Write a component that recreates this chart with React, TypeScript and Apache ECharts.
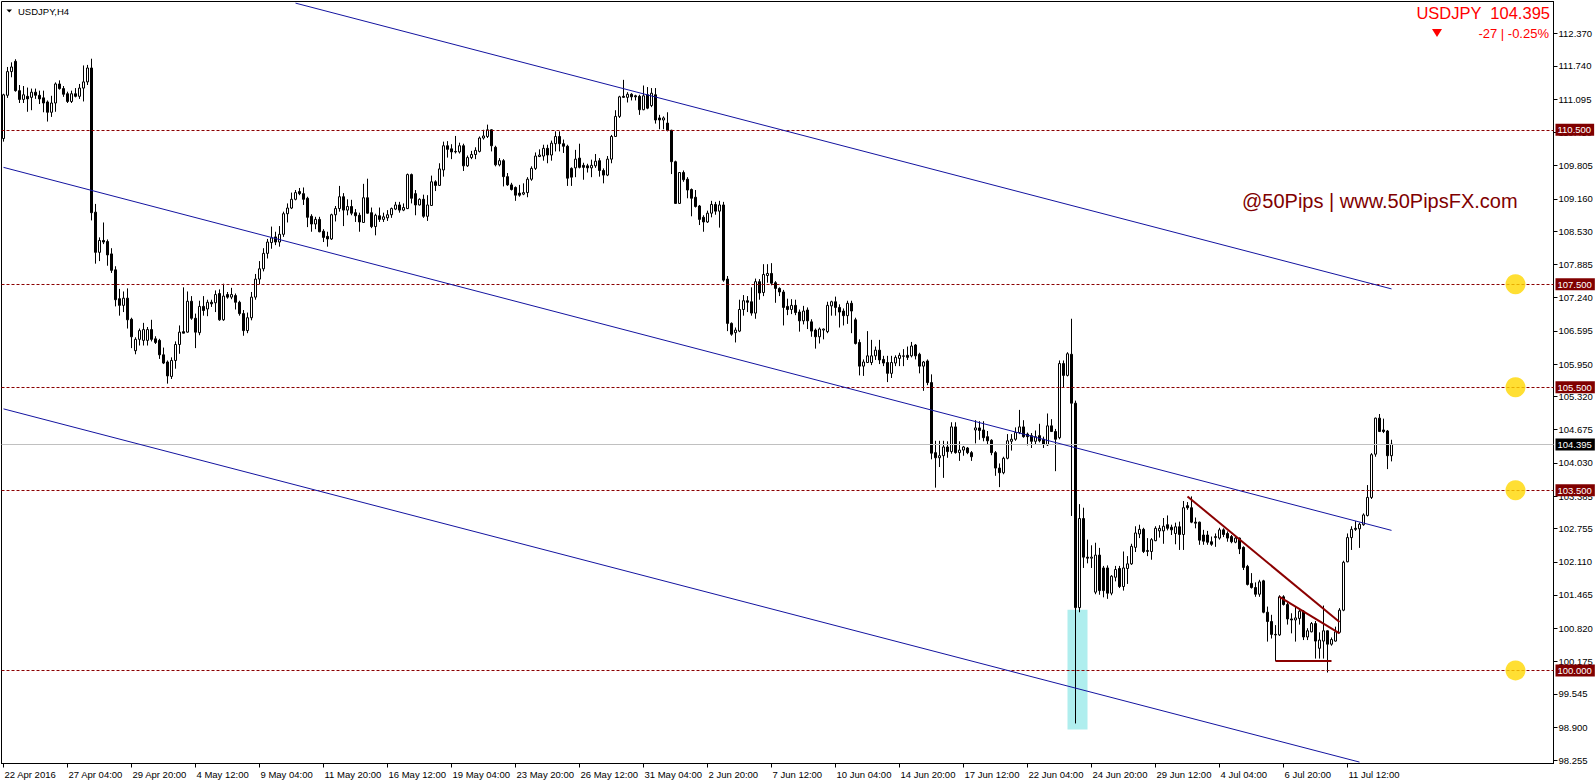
import React, { useEffect, useRef } from 'react';
import * as echarts from 'echarts';

// ---------- DATA ----------
// H4 bars, each row: [open, high, low, close]; first bar = 22 Apr 2016 12:00
const barsApr = [
  [110.33, 111.20, 110.27, 111.18], [111.17, 111.72, 111.12, 111.63], [111.63, 111.81, 111.52, 111.72],
  [111.83, 111.87, 111.24, 111.26], [111.26, 111.37, 111.02, 111.09], [111.09, 111.35, 111.02, 111.18],
  [111.15, 111.32, 110.85, 111.10], [111.13, 111.30, 110.88, 111.23], [111.23, 111.30, 111.10, 111.17],
  [111.17, 111.26, 111.00, 111.10], [111.12, 111.26, 110.84, 111.02], [111.04, 111.07, 110.66, 110.84],
  [110.84, 111.16, 110.75, 111.02], [111.02, 111.42, 110.85, 111.39], [111.39, 111.46, 111.28, 111.30],
  [111.30, 111.35, 111.14, 111.19], [111.20, 111.24, 111.02, 111.05], [111.05, 111.26, 111.02, 111.20],
  [111.20, 111.31, 111.13, 111.15], [111.15, 111.39, 111.10, 111.31], [111.31, 111.75, 111.05, 111.43],
  [111.43, 111.76, 111.37, 111.70], [111.70, 111.88, 108.74, 108.89], [108.90, 109.06, 107.90, 108.12],
  [108.12, 108.41, 107.95, 108.35], [108.35, 108.70, 108.28, 108.32], [108.33, 108.37, 107.86, 108.07],
  [108.09, 108.20, 107.72, 107.77], [107.78, 107.85, 107.07, 107.20], [107.22, 107.41, 106.89, 107.09],
  [107.09, 107.36, 106.96, 107.23], [107.23, 107.42, 106.64, 106.81], [106.82, 106.85, 106.26, 106.48],
];
const barsMay = [
  [106.21, 106.47, 106.14, 106.43], [106.43, 106.64, 106.31, 106.60], [106.41, 106.75, 106.31, 106.62],
  [106.41, 106.67, 106.31, 106.62], [106.62, 106.81, 106.39, 106.43], [106.44, 106.49, 106.34, 106.37],
  [106.41, 106.44, 106.05, 106.13], [106.13, 106.27, 105.95, 105.97], [105.99, 106.02, 105.57, 105.72],
  [105.71, 106.08, 105.66, 106.02], [106.02, 106.39, 105.86, 106.33], [106.33, 106.70, 106.15, 106.57],
  [106.58, 107.44, 106.55, 106.55], [106.57, 107.36, 106.56, 107.17], [107.17, 107.27, 106.81, 106.84],
  [106.84, 106.93, 106.26, 106.57], [106.56, 107.18, 106.51, 107.07], [107.07, 107.27, 106.89, 106.99],
  [107.02, 107.20, 106.88, 107.15], [107.15, 107.20, 107.06, 107.12], [107.14, 107.38, 106.96, 107.30],
  [107.32, 107.40, 106.79, 106.81], [106.81, 107.51, 106.79, 107.27], [107.30, 107.35, 107.22, 107.25],
  [107.25, 107.43, 107.21, 107.30], [107.28, 107.32, 107.01, 107.15], [107.15, 107.18, 106.89, 106.93],
  [106.93, 107.00, 106.50, 106.60], [106.60, 106.95, 106.55, 106.85], [106.85, 107.35, 106.80, 107.25],
  [107.25, 107.70, 107.20, 107.60], [107.60, 107.95, 107.50, 107.80], [107.80, 108.20, 107.75, 108.10],
  [108.10, 108.38, 108.00, 108.32], [108.31, 108.62, 108.19, 108.40], [108.42, 108.52, 108.26, 108.32],
  [108.32, 108.63, 108.23, 108.47], [108.47, 108.91, 108.42, 108.87], [108.87, 109.07, 108.70, 108.98],
  [108.98, 109.28, 108.96, 109.15], [109.15, 109.33, 109.13, 109.28], [109.30, 109.37, 109.23, 109.26],
  [109.26, 109.38, 109.04, 109.15], [109.17, 109.20, 108.61, 108.80], [108.82, 108.86, 108.52, 108.67],
  [108.67, 108.81, 108.57, 108.76], [108.76, 108.81, 108.51, 108.52], [108.53, 108.57, 108.32, 108.41],
  [108.43, 108.52, 108.23, 108.38], [108.38, 108.87, 108.36, 108.85], [108.85, 109.02, 108.72, 108.97],
  [108.97, 109.41, 108.91, 109.20], [109.20, 109.27, 108.63, 108.94], [108.94, 109.15, 108.84, 109.01],
  [109.01, 109.14, 108.84, 108.88], [108.89, 108.96, 108.71, 108.83], [108.84, 108.89, 108.52, 108.71],
  [108.70, 109.45, 108.69, 109.18], [109.18, 109.55, 108.87, 108.88], [108.89, 108.99, 108.59, 108.62],
  [108.62, 108.87, 108.45, 108.84], [108.83, 108.99, 108.71, 108.76], [108.76, 108.89, 108.71, 108.81],
  [108.79, 108.94, 108.73, 108.85], [108.85, 108.99, 108.79, 108.97], [108.96, 109.10, 108.94, 109.04],
  [109.04, 109.10, 108.89, 108.94], [108.94, 109.07, 108.92, 108.99], [108.97, 109.65, 108.96, 109.63],
  [109.63, 109.65, 109.07, 109.17], [109.26, 109.33, 108.84, 109.04], [109.04, 109.17, 109.03, 109.15],
  [109.15, 109.24, 108.79, 108.82], [108.82, 109.23, 108.73, 109.04], [109.03, 109.61, 109.02, 109.49],
  [109.49, 109.52, 109.31, 109.42], [109.42, 109.85, 109.41, 109.74], [109.72, 110.27, 109.59, 110.19],
  [110.19, 110.28, 109.96, 110.12], [110.13, 110.22, 109.93, 110.07], [110.08, 110.38, 110.04, 110.07],
  [110.07, 110.25, 110.04, 110.19], [110.19, 110.23, 109.70, 109.80], [109.80, 110.00, 109.78, 109.96],
  [109.96, 110.09, 109.93, 110.02], [110.02, 110.16, 109.93, 110.10], [110.08, 110.37, 110.06, 110.34],
  [110.34, 110.50, 110.31, 110.38], [110.37, 110.60, 110.34, 110.50], [110.50, 110.51, 110.08, 110.19],
  [110.16, 110.19, 109.79, 109.82], [109.82, 109.95, 109.79, 109.90], [109.90, 109.93, 109.40, 109.59],
  [109.59, 109.66, 109.41, 109.43], [109.43, 109.47, 109.32, 109.34], [109.38, 109.40, 109.12, 109.23],
  [109.27, 109.43, 109.20, 109.23], [109.25, 109.46, 109.23, 109.28], [109.28, 109.58, 109.19, 109.54],
  [109.54, 109.79, 109.51, 109.75], [109.75, 110.06, 109.72, 109.99], [109.98, 110.12, 109.97, 110.01],
  [109.99, 110.21, 109.90, 110.14], [110.14, 110.21, 109.85, 110.01], [110.01, 110.29, 109.90, 110.24],
  [110.23, 110.47, 110.08, 110.37], [110.37, 110.47, 110.08, 110.23], [110.23, 110.31, 110.05, 110.18],
  [110.18, 110.21, 109.41, 109.56], [109.75, 109.77, 109.41, 109.58], [109.76, 110.11, 109.58, 109.93],
  [109.95, 110.23, 109.75, 109.77], [109.81, 109.86, 109.53, 109.77], [109.80, 109.84, 109.67, 109.76],
  [109.76, 109.92, 109.58, 109.81], [109.80, 110.03, 109.76, 109.89], [109.90, 109.95, 109.59, 109.71],
  [109.71, 109.75, 109.46, 109.62], [109.62, 109.99, 109.60, 109.93], [109.93, 110.40, 109.85, 110.37],
  [110.37, 110.88, 110.36, 110.76], [110.76, 111.16, 110.73, 111.14], [111.15, 111.47, 111.12, 111.13],
  [111.13, 111.23, 111.03, 111.19], [111.19, 111.21, 111.07, 111.14], [111.16, 111.18, 111.07, 111.14],
  [111.15, 111.18, 110.79, 110.89], [110.89, 111.36, 110.88, 111.16], [111.18, 111.33, 110.90, 110.92],
  [110.97, 111.31, 110.94, 111.21], [111.18, 111.31, 110.62, 110.69], [110.73, 110.79, 110.51, 110.69],
];
const barsJun = [
  [110.69, 110.76, 110.51, 110.73], [110.63, 110.84, 110.47, 110.49], [110.49, 110.50, 109.64, 109.88],
  [109.88, 109.90, 109.06, 109.07], [109.07, 109.68, 109.06, 109.67], [109.67, 109.71, 109.49, 109.53],
  [109.54, 109.58, 109.17, 109.33], [109.34, 109.36, 108.82, 109.17], [109.19, 109.33, 108.99, 109.01],
  [109.02, 109.04, 108.65, 108.76], [108.80, 108.84, 108.52, 108.71], [108.71, 108.93, 108.69, 108.88],
  [108.88, 109.12, 108.80, 109.05], [109.05, 109.10, 108.85, 108.92], [108.92, 109.12, 108.60, 109.04],
  [109.04, 109.10, 107.55, 107.58], [107.60, 107.66, 106.59, 106.74], [106.74, 106.76, 106.50, 106.53],
  [106.56, 106.66, 106.37, 106.61], [106.59, 107.20, 106.57, 107.01], [107.01, 107.29, 106.89, 107.18],
  [107.18, 107.27, 106.96, 107.15], [107.16, 107.44, 106.89, 106.94], [106.94, 107.61, 106.83, 107.55],
  [107.55, 107.60, 107.20, 107.33], [107.34, 107.89, 107.27, 107.69], [107.67, 107.89, 107.53, 107.71],
  [107.71, 107.91, 107.48, 107.52], [107.53, 107.56, 107.14, 107.42], [107.42, 107.44, 107.27, 107.35],
  [107.35, 107.39, 106.70, 107.05], [107.07, 107.22, 106.90, 107.01], [107.01, 107.21, 106.92, 107.09],
  [107.09, 107.20, 106.90, 106.95], [106.96, 107.01, 106.58, 106.79], [106.79, 107.08, 106.72, 106.98],
  [107.00, 107.05, 106.63, 106.79], [106.77, 106.82, 106.48, 106.59], [106.61, 106.64, 106.25, 106.48],
  [106.48, 106.66, 106.35, 106.63], [106.61, 106.64, 106.43, 106.63], [106.58, 107.16, 106.55, 107.09],
  [107.08, 107.18, 106.89, 107.16], [107.16, 107.26, 106.89, 107.05], [107.05, 107.11, 106.66, 106.96],
  [106.98, 107.03, 106.70, 106.89], [106.89, 107.18, 106.73, 107.13], [107.13, 107.18, 106.55, 106.98],
  [106.81, 106.85, 106.33, 106.35], [106.37, 106.43, 105.73, 105.91], [105.91, 106.04, 105.72, 105.99],
  [105.98, 106.59, 105.97, 106.11], [105.98, 106.42, 105.93, 106.11], [106.11, 106.29, 106.03, 106.22],
  [106.22, 106.42, 105.95, 106.03], [106.04, 106.11, 105.91, 105.97], [105.98, 106.11, 105.60, 105.77],
  [105.77, 106.11, 105.68, 105.98], [105.97, 106.12, 105.91, 106.08], [106.06, 106.17, 105.91, 106.12],
  [106.10, 106.24, 105.91, 106.11], [106.12, 106.29, 106.03, 106.08], [106.11, 106.38, 106.08, 106.30],
  [106.32, 106.34, 106.04, 106.11], [106.14, 106.17, 105.77, 105.91], [105.91, 106.01, 105.43, 105.99],
  [106.01, 106.04, 105.54, 105.59], [105.59, 105.75, 104.10, 104.22], [104.23, 104.46, 103.55, 104.13],
  [104.13, 104.46, 103.95, 104.17], [104.17, 104.46, 103.74, 104.34], [104.34, 104.45, 104.13, 104.25],
  [104.25, 104.82, 104.21, 104.73], [104.73, 104.82, 104.21, 104.23], [104.23, 104.45, 104.07, 104.28],
  [104.28, 104.36, 104.17, 104.34], [104.32, 104.34, 104.20, 104.23], [104.23, 104.26, 104.07, 104.15],
  [104.67, 104.86, 104.41, 104.71], [104.71, 104.84, 104.48, 104.66], [104.67, 104.84, 104.45, 104.52],
  [104.54, 104.65, 104.39, 104.46], [104.47, 104.49, 104.18, 104.23], [104.23, 104.26, 103.78, 103.93],
  [103.93, 104.02, 103.56, 103.84], [103.84, 104.15, 103.81, 104.12], [104.12, 104.59, 104.10, 104.46],
  [104.45, 104.59, 104.27, 104.49], [104.49, 104.72, 104.46, 104.62], [104.62, 105.06, 104.59, 104.73],
  [104.73, 104.86, 104.52, 104.54], [104.59, 104.62, 104.37, 104.54], [104.56, 104.61, 104.32, 104.45],
  [104.45, 104.66, 104.39, 104.54], [104.56, 104.79, 104.43, 104.46], [104.49, 104.54, 104.32, 104.39],
  [104.38, 104.99, 104.36, 104.75], [104.75, 104.88, 104.63, 104.64], [104.64, 104.69, 103.87, 104.49],
  [104.52, 106.02, 104.49, 105.96], [105.96, 106.02, 105.50, 105.73], [105.73, 106.18, 105.71, 106.15],
  [106.14, 106.83, 103.00, 105.19], [105.19, 105.24, 98.97, 101.22], [101.22, 103.23, 101.13, 102.95],
  [102.95, 103.16, 101.99, 102.20], [102.20, 102.54, 102.08, 102.18], [102.18, 102.43, 101.99, 102.20],
  [101.52, 102.48, 101.48, 102.24], [102.24, 102.38, 101.47, 101.55], [101.99, 102.03, 101.42, 101.55],
  [101.99, 102.04, 101.39, 101.50], [101.50, 101.85, 101.46, 101.83], [101.81, 102.03, 101.73, 101.96],
  [101.98, 102.03, 101.60, 101.63], [101.63, 102.31, 101.55, 101.99], [101.98, 102.22, 101.68, 102.07],
  [102.07, 102.46, 102.05, 102.41], [102.39, 102.80, 102.30, 102.67], [102.65, 102.83, 102.57, 102.74],
  [102.74, 102.77, 102.28, 102.31], [102.31, 102.57, 102.22, 102.33], [102.31, 102.57, 102.15, 102.54],
  [102.52, 102.80, 102.51, 102.76], [102.71, 102.82, 102.58, 102.76], [102.71, 102.96, 102.46, 102.80],
  [102.83, 103.01, 102.72, 102.76], [102.78, 102.83, 102.63, 102.73], [102.66, 102.87, 102.45, 102.79],
  [102.79, 102.89, 102.34, 102.64], [102.64, 103.29, 102.34, 103.16], [103.20, 103.27, 103.12, 103.16],
];
const barsJul = [
  [103.16, 103.38, 102.86, 102.88], [102.88, 102.97, 102.76, 102.86], [102.88, 102.89, 102.44, 102.53],
  [102.63, 102.73, 102.44, 102.51], [102.63, 102.71, 102.44, 102.49], [102.50, 102.60, 102.42, 102.45],
  [102.58, 102.66, 102.40, 102.60], [102.57, 102.77, 102.54, 102.73], [102.73, 102.76, 102.59, 102.64],
  [102.66, 102.70, 102.50, 102.57], [102.60, 102.63, 102.47, 102.50], [102.49, 102.60, 102.47, 102.57],
  [102.57, 102.58, 102.26, 102.36], [102.39, 102.41, 101.95, 102.00], [102.02, 102.05, 101.65, 101.67],
  [101.69, 101.89, 101.59, 101.61], [101.61, 101.71, 101.43, 101.48], [101.48, 101.76, 101.43, 101.72],
  [101.74, 101.76, 101.11, 101.13], [101.13, 101.24, 100.56, 100.95], [100.95, 101.08, 100.62, 100.70],
  [100.70, 100.88, 100.18, 100.69], [100.69, 101.46, 100.67, 101.43], [101.43, 101.46, 101.26, 101.28],
  [101.28, 101.32, 100.89, 101.00], [101.00, 101.11, 100.72, 100.98], [100.98, 101.24, 100.56, 101.02],
  [101.01, 101.21, 100.89, 101.15], [101.15, 101.17, 100.59, 100.65], [100.65, 100.82, 100.59, 100.77],
  [100.75, 100.94, 100.74, 100.91], [100.91, 100.96, 100.23, 100.57], [100.43, 100.74, 100.23, 100.59],
  [100.57, 101.26, 100.23, 100.77], [100.77, 100.78, 99.96, 100.51], [100.51, 100.64, 100.48, 100.60],
  [100.57, 100.85, 100.56, 100.75], [100.74, 101.21, 100.72, 101.17], [101.17, 102.13, 101.15, 102.10],
  [102.11, 102.66, 102.10, 102.58], [102.58, 102.80, 102.34, 102.74], [102.76, 102.90, 102.71, 102.74],
  [102.75, 102.87, 102.38, 102.84], [102.83, 103.05, 102.81, 103.02], [103.01, 103.60, 102.99, 103.36],
  [103.36, 104.22, 103.33, 104.19], [104.20, 104.91, 104.15, 104.90], [104.90, 104.98, 104.63, 104.64],
  [104.67, 104.89, 104.61, 104.64], [104.65, 104.67, 103.91, 104.17], [104.17, 104.48, 104.06, 104.395],
];

const totalSlots = 388; // bars + empty chart shift on the right
const labelEvery = 16;
const xTickLabels = [
  '22 Apr 2016', '27 Apr 04:00', '29 Apr 20:00', '4 May 12:00', '9 May 04:00', '11 May 20:00',
  '16 May 12:00', '19 May 04:00', '23 May 20:00', '26 May 12:00', '31 May 04:00', '2 Jun 20:00',
  '7 Jun 12:00', '10 Jun 04:00', '14 Jun 20:00', '17 Jun 12:00', '22 Jun 04:00', '24 Jun 20:00',
  '29 Jun 12:00', '4 Jul 04:00', '6 Jul 20:00', '11 Jul 12:00',
];
const yTickValues = [
  112.370, 111.740, 111.095, 110.450, 109.805, 109.160, 108.530, 107.885, 107.240, 106.595, 105.950,
  105.320, 104.675, 104.030, 103.385, 102.755, 102.110, 101.465, 100.820, 100.175, 99.545, 98.900, 98.255,
];
const yMin = 98.1925;
const yMax = 112.9915;
const levels = [110.5, 107.5, 105.5, 103.5, 100.0];
const markedLevels = [107.5, 105.5, 103.5, 100.0];
const markerSlot = 378;
const lastPrice = 104.395;
// trend lines: [fromBar, fromPrice, toBar, toPrice]
const channelLines = [
  [73, 112.96, 347, 107.41],
  [0, 109.77, 347, 102.72],
  [0, 105.08, 339, 98.22],
];
const wedgeLines = [
  [296, 103.38, 334, 100.94],
  [319, 101.43, 334, 100.72],
  [318, 100.19, 332, 100.19],
];
const highlightZone = [266, 101.18, 271, 98.855];

const FONT = '"Liberation Sans", Arial, Helvetica, sans-serif';

function buildOption() {
  const bars = [...barsApr, ...barsMay, ...barsJun, ...barsJul];
  const categories = Array.from({ length: totalSlots }, (_, i) => String(i));
  const candleData = bars.map(([o, h, l, c]) => [o, c, l, h]);
  const showTick = (idx: number) => idx % labelEvery === 0 && idx / labelEvery < xTickLabels.length;

  const levelLines = levels.map((v) => ({
    yAxis: v,
    lineStyle: { color: '#8B0000', type: [3, 2], width: 1 },
    label: {
      show: true, position: 'end', formatter: v.toFixed(3), color: '#fff', backgroundColor: '#800000',
      padding: [1, 3, 1, 2], fontSize: 9.5, fontFamily: FONT, distance: 2,
    },
  }));
  const priceLine = {
    yAxis: lastPrice,
    lineStyle: { color: '#C0C0C0', type: 'solid', width: 1 },
    label: {
      show: true, position: 'end', formatter: lastPrice.toFixed(3), color: '#fff', backgroundColor: '#000',
      padding: [1, 3, 1, 2], fontSize: 9.5, fontFamily: FONT, distance: 2,
    },
  };
  const toSeg = (l: number[], color: string, width: number) => [
    { coord: [l[0], l[1]], lineStyle: { color, width, type: 'solid' }, label: { show: false } },
    { coord: [l[2], l[3]] },
  ];

  return {
    animation: false,
    backgroundColor: '#fff',
    grid: {
      left: 1.5, right: 42.5, top: 1.5, bottom: 20.5,
      show: true, borderColor: '#000', borderWidth: 1, backgroundColor: '#fff',
    },
    xAxis: {
      type: 'category',
      data: categories,
      boundaryGap: true,
      axisLine: { show: true, lineStyle: { color: '#000', width: 1 } },
      axisTick: { show: true, alignWithLabel: true, interval: showTick, length: 4, lineStyle: { color: '#000' } },
      axisLabel: {
        show: true, interval: showTick, align: 'left', color: '#000', fontSize: 9.5, fontFamily: FONT, margin: 6,
        padding: [0, 0, 0, 1],
        formatter: (_v: string, idx: number) => xTickLabels[idx / labelEvery] ?? '',
      },
      splitLine: { show: false },
    },
    yAxis: {
      type: 'value',
      position: 'right',
      min: yMin,
      max: yMax,
      axisLine: { show: true, lineStyle: { color: '#000', width: 1 } },
      axisTick: { show: true, length: 4, customValues: yTickValues, lineStyle: { color: '#000' } },
      axisLabel: {
        show: true, customValues: yTickValues, color: '#000', fontSize: 9.5, fontFamily: FONT, margin: 5,
        formatter: (v: number) => v.toFixed(3),
      },
      splitLine: { show: false },
    },
    series: [
      {
        type: 'candlestick',
        data: candleData,
        barWidth: 2,
        clip: false,
        itemStyle: { color: '#fff', color0: '#000', borderColor: '#000', borderColor0: '#000', borderWidth: 1 },
        markArea: {
          silent: true,
          itemStyle: { color: '#AFEEEE' },
          data: [[{ coord: [highlightZone[0], highlightZone[1]] }, { coord: [highlightZone[2], highlightZone[3]] }]],
        },
        markLine: {
          silent: true,
          symbol: ['none', 'none'],
          animation: false,
          data: [
            ...levelLines,
            priceLine,
            ...channelLines.map((l) => toSeg(l, '#1414A0', 1)),
            ...wedgeLines.map((l) => toSeg(l, '#8B0000', 2)),
          ],
        },
      },
      {
        type: 'scatter',
        z: 6,
        symbol: 'circle',
        symbolSize: 20,
        silent: true,
        itemStyle: { color: '#FFD700' },
        data: markedLevels.map((v) => [markerSlot, v]),
      },
    ],
    graphic: [
      { type: 'polygon', shape: { points: [[6.5, 9.5], [12, 9.5], [9.25, 12.5]] }, style: { fill: '#000' } },
      { type: 'text', x: 18, y: 11, style: { text: 'USDJPY,H4', fill: '#000', font: `9.5px ${FONT}`, verticalAlign: 'middle' } },
      { type: 'text', x: 1550, y: 13, style: { text: 'USDJPY  104.395', fill: '#FF0000', font: `16.5px ${FONT}`, align: 'right', verticalAlign: 'middle' } },
      { type: 'polygon', shape: { points: [[1432, 29], [1442, 29], [1437, 37]] }, style: { fill: '#FF0000' } },
      { type: 'text', x: 1549, y: 33, style: { text: '-27 | -0.25%', fill: '#FF0000', font: `13px ${FONT}`, align: 'right', verticalAlign: 'middle' } },
      { type: 'text', x: 1242, y: 201, style: { text: '@50Pips | www.50PipsFX.com', fill: '#800000', font: `20px ${FONT}`, verticalAlign: 'middle' } },
    ],
  };
}

export default function App() {
  const ref = useRef<HTMLDivElement>(null);
  useEffect(() => {
    if (!ref.current) return;
    const chart = echarts.init(ref.current, null, { renderer: 'svg' });
    chart.setOption(buildOption() as any);
    return () => chart.dispose();
  }, []);
  return (
    <div
      ref={ref}
      style={{ position: 'fixed', left: 0, top: 0, width: 1596, height: 784, background: '#fff' }}
    />
  );
}
